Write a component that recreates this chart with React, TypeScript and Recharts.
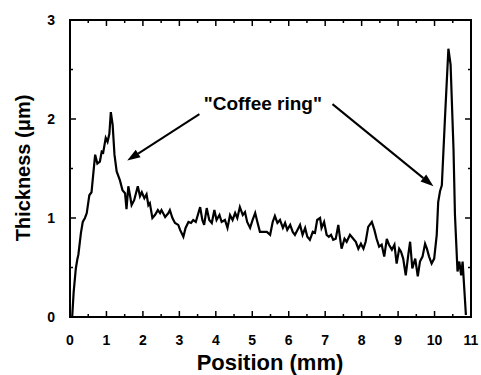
import React from "react";
import {
  LineChart,
  Line,
  XAxis,
  YAxis,
  ReferenceLine,
  ReferenceDot,
} from "recharts";

// profile: position (mm) / thickness (um)
const positions = [
  0.06, 0.1, 0.16, 0.2, 0.23, 0.3, 0.35, 0.41, 0.46, 0.53, 0.59, 0.64, 0.69,
  0.75, 0.82, 0.87, 0.91, 0.98, 1.03, 1.08, 1.12, 1.17, 1.22, 1.28, 1.37, 1.44,
  1.51, 1.55, 1.6, 1.65, 1.69, 1.76, 1.86, 1.92, 1.97, 2.04, 2.1, 2.15, 2.19,
  2.26, 2.33, 2.41, 2.47, 2.51, 2.61, 2.7, 2.74, 2.81, 2.88, 2.97, 3.02, 3.11,
  3.17, 3.25, 3.32, 3.38, 3.45, 3.57, 3.63, 3.68, 3.75, 3.82, 3.89, 3.96, 4.02,
  4.1, 4.16, 4.25, 4.32, 4.39, 4.46, 4.53, 4.59, 4.66, 4.74, 4.8, 4.86, 4.94,
  5.01, 5.08, 5.14, 5.21, 5.3, 5.4, 5.49, 5.56, 5.62, 5.69, 5.76, 5.84, 5.9,
  5.96, 6.04, 6.11, 6.17, 6.24, 6.31, 6.38, 6.45, 6.51, 6.58, 6.66, 6.72, 6.78,
  6.86, 6.9, 6.97, 7.04, 7.1, 7.16, 7.22, 7.29, 7.36, 7.41, 7.45, 7.53, 7.59,
  7.68, 7.77, 7.84, 7.91, 7.98, 8.05, 8.11, 8.18, 8.28, 8.35, 8.41, 8.48, 8.55,
  8.62, 8.69, 8.75, 8.83, 8.9, 8.96, 9.03, 9.08, 9.14, 9.21, 9.28, 9.33, 9.39,
  9.47, 9.54, 9.6, 9.67, 9.74, 9.79, 9.85, 9.92, 9.99, 10.06, 10.1, 10.15,
  10.2, 10.29, 10.38, 10.44, 10.52, 10.56, 10.63, 10.68, 10.73, 10.77, 10.82,
  10.86,
];
const thickness = [
  0, 0.25, 0.49, 0.58, 0.63, 0.85, 0.96, 1.0, 1.05, 1.23, 1.26, 1.45, 1.64,
  1.55, 1.57, 1.67, 1.66, 1.81, 1.77, 1.85, 2.07, 1.94, 1.64, 1.47, 1.38, 1.28,
  1.25, 1.09, 1.32, 1.22, 1.13, 1.18, 1.32, 1.22, 1.26, 1.2, 1.24, 1.13, 1.15,
  1.0, 1.03, 1.08, 1.05, 1.08, 1.01, 1.05, 1.08, 1.0, 0.95, 0.93, 0.88, 0.81,
  0.9, 0.96, 0.95, 0.98, 0.96, 1.11, 0.98, 0.93, 1.1, 0.98, 0.95, 1.08, 0.98,
  1.03, 0.96, 0.98, 0.9, 1.03, 0.98, 1.05, 1.0, 1.11, 1.03, 1.06, 0.96, 0.9,
  0.98, 1.05, 0.96, 0.86, 0.86, 0.86, 0.83, 0.96, 1.02, 0.95, 0.98, 0.9, 0.95,
  0.88, 0.93, 0.86, 0.83, 0.88, 0.93, 0.83, 0.9, 0.81, 0.78, 0.86, 0.85, 0.98,
  1.0, 0.9, 0.96, 0.83, 0.81, 0.83, 0.78, 0.79, 0.93, 0.79, 0.69, 0.79, 0.76,
  0.83, 0.79, 0.76, 0.69, 0.74, 0.69, 0.76, 0.91, 0.96, 0.88, 0.79, 0.71, 0.73,
  0.61, 0.79, 0.73, 0.68, 0.73, 0.54, 0.69, 0.66, 0.59, 0.42, 0.63, 0.76, 0.49,
  0.59, 0.41, 0.56, 0.61, 0.74, 0.69, 0.61, 0.54, 0.59, 0.83, 1.16, 1.27,
  1.33, 2.04, 2.71, 2.55, 1.7, 1.03, 0.46, 0.56, 0.42, 0.56, 0.26, 0.02,
];

const xTicks = [
  0, 0.5, 1, 1.5, 2, 2.5, 3, 3.5, 4, 4.5, 5, 5.5, 6, 6.5, 7, 7.5, 8, 8.5, 9,
  9.5, 10, 10.5, 11,
];
const yTicks = [0, 0.5, 1, 1.5, 2, 2.5, 3];
const xDomain = [0, 11];
const yDomain = [0, 3];

// annotation: label anchor and the two arrows (tail -> tip), in data units
const noteText = '"Coffee ring"';
const notePoint = [5.29, 2.09];
const leftArrow = [
  [3.55, 2.05],
  [1.57, 1.58],
];
const rightArrow = [
  [7.2, 2.15],
  [9.97, 1.32],
];

const data = positions.map((p, i) => ({ pos: p, t: thickness[i] }));

const font = "'Liberation Sans', Arial, sans-serif";

// chart box; the plot frame follows from the margins and axis sizes
const W = 481;
const H = 375;
const margin = { top: 20, right: 10, left: 0, bottom: 0 };
const yAxisW = 70;
const xAxisH = 58;
const plot = {
  x: margin.left + yAxisW,
  y: margin.top,
  w: W - margin.left - margin.right - yAxisW,
  h: H - margin.top - margin.bottom - xAxisH,
};

const isMajor = (v: number) => Number.isInteger(v);

const BottomLabel = (props: any) => {
  const { x, y, payload } = props;
  if (!isMajor(payload.value)) return <g />;
  return (
    <text x={x} y={y + 20} textAnchor="middle" fontSize={14} fontWeight="bold" fontFamily={font} fill="#000">
      {payload.value}
    </text>
  );
};

const LeftLabel = (props: any) => {
  const { x, y, payload } = props;
  if (!isMajor(payload.value)) return <g />;
  return (
    <text x={x - 7} y={y + 5} textAnchor="end" fontSize={14} fontWeight="bold" fontFamily={font} fill="#000">
      {payload.value}
    </text>
  );
};

// inward tick mark drawn at a data point; dx/dy give the direction
const tickMark = (len: number, dx: number, dy: number) => (p: any) => (
  <line x1={p.cx} y1={p.cy} x2={p.cx + dx * len} y2={p.cy + dy * len} stroke="#000" strokeWidth={1.5} />
);

const Arrow = (props: any) => {
  const { x1, y1, x2, y2 } = props;
  const a = Math.atan2(y2 - y1, x2 - x1);
  const len = 13;
  const w = 4.5;
  const bx = x2 - len * Math.cos(a);
  const by = y2 - len * Math.sin(a);
  const px = -Math.sin(a) * w;
  const py = Math.cos(a) * w;
  return (
    <g>
      <line x1={x1} y1={y1} x2={bx} y2={by} stroke="#000" strokeWidth={2} />
      <polygon points={`${x2},${y2} ${bx + px},${by + py} ${bx - px},${by - py}`} fill="#000" />
    </g>
  );
};

const NoteLabel = (props: any) => (
  <text x={props.cx} y={props.cy} textAnchor="middle" fontSize={19} fontWeight="bold" fontFamily={font} fill="#000">
    {noteText}
  </text>
);

export default function App() {
  return (
    <div style={{ position: "absolute", left: 0, top: 0 }}>
      <LineChart width={W} height={H} data={data} margin={margin}>
        <XAxis
          dataKey="pos"
          type="number"
          domain={xDomain}
          ticks={xTicks}
          interval={0}
          tick={<BottomLabel />}
          tickLine={false}
          axisLine={false}
          height={xAxisH}
        />
        <YAxis
          type="number"
          domain={yDomain}
          ticks={yTicks}
          interval={0}
          tick={<LeftLabel />}
          tickLine={false}
          axisLine={false}
          width={yAxisW}
        />
        <rect x={plot.x} y={plot.y} width={plot.w} height={plot.h} fill="none" stroke="#000" strokeWidth={2} />
        <Line
          type="linear"
          dataKey="t"
          stroke="#000"
          strokeWidth={2.2}
          dot={false}
          isAnimationActive={false}
        />
        {xTicks.map((v) => (
          <ReferenceDot key={`b${v}`} x={v} y={yDomain[0]} r={0} shape={tickMark(isMajor(v) ? 6 : 3, 0, -1)} />
        ))}
        {xTicks.map((v) => (
          <ReferenceDot key={`t${v}`} x={v} y={yDomain[1]} r={0} shape={tickMark(isMajor(v) ? 6 : 3, 0, 1)} />
        ))}
        {yTicks.map((v) => (
          <ReferenceDot key={`l${v}`} x={xDomain[0]} y={v} r={0} shape={tickMark(isMajor(v) ? 6 : 3, 1, 0)} />
        ))}
        {yTicks.map((v) => (
          <ReferenceDot key={`r${v}`} x={xDomain[1]} y={v} r={0} shape={tickMark(isMajor(v) ? 6 : 3, -1, 0)} />
        ))}
        <ReferenceLine
          segment={[
            { x: leftArrow[0][0], y: leftArrow[0][1] },
            { x: leftArrow[1][0], y: leftArrow[1][1] },
          ]}
          shape={Arrow}
          ifOverflow="visible"
        />
        <ReferenceLine
          segment={[
            { x: rightArrow[0][0], y: rightArrow[0][1] },
            { x: rightArrow[1][0], y: rightArrow[1][1] },
          ]}
          shape={Arrow}
          ifOverflow="visible"
        />
        <ReferenceDot x={notePoint[0]} y={notePoint[1]} r={0} shape={NoteLabel} ifOverflow="visible" />
        <text x={23} y={168} transform="rotate(-90 23 168)" textAnchor="middle" dominantBaseline="central" fontSize={20} fontWeight="bold" fontFamily={font} fill="#000">
          Thickness (μm)
        </text>
        <text x={270} y={370} textAnchor="middle" fontSize={22} fontWeight="bold" fontFamily={font} fill="#000">
          Position (mm)
        </text>
      </LineChart>
    </div>
  );
}
